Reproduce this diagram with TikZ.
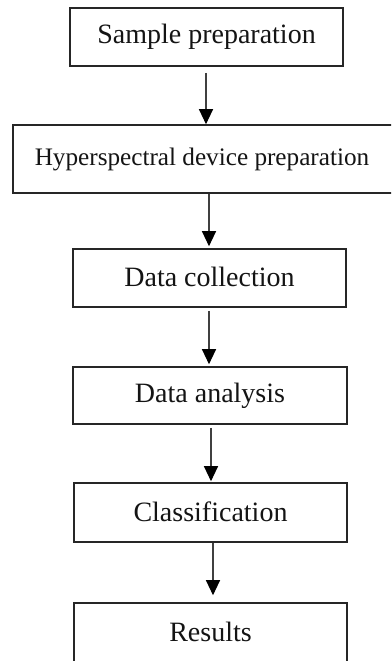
\documentclass[tikz,border=0pt]{standalone}
\usepackage{fontspec}
\setmainfont{Liberation Serif}
\usetikzlibrary{arrows.meta}

\tikzset{
  stepbox/.style={draw=black!85, line width=1.6pt, fill=white, inner sep=0pt,
    text=black!92, font=\fontsize{28}{32}\selectfont},
  flow/.style={draw=black!75, line width=1.2pt,
    -{Triangle[length=15pt,width=14pt,color=black]}},
}

\begin{document}
\begin{tikzpicture}[x=1pt,y=-1pt]
  \useasboundingbox (0,0) rectangle (391,661);
  \clip (0,0) rectangle (391,661);

  % process steps, top to bottom
  \node[stepbox, minimum width=273pt, minimum height=58pt] (b1) at (206.5,37)
    {\raisebox{1pt}{Sample preparation}};
  \node[stepbox, minimum width=389pt, minimum height=68pt,
        font=\fontsize{25.2}{30}\selectfont] (b2) at (207.5,159)
    {\hspace*{-11pt}\raisebox{5pt}{Hyperspectral device preparation}};
  \node[stepbox, minimum width=273pt, minimum height=58pt] (b3) at (209.5,278)
    {\raisebox{3pt}{Data collection}};
  \node[stepbox, minimum width=274pt, minimum height=57pt] (b4) at (210,395.5)
    {\raisebox{3pt}{Data analysis}};
  \node[stepbox, minimum width=273pt, minimum height=59pt] (b5) at (210.5,512.5)
    {\raisebox{2pt}{Classification}};
  \node[stepbox, minimum width=273pt, minimum height=62pt] (b6) at (210.5,634)
    {\raisebox{4pt}{Results}};

  % connectors
  \draw[flow] ([xshift=-0.5pt,yshift=-6pt]b1.south) -- ([xshift=-1.5pt]b2.north);
  \draw[flow] ([xshift=1.5pt]b2.south) -- ([xshift=-0.5pt,yshift=2pt]b3.north);
  \draw[flow] ([xshift=-0.5pt,yshift=-3pt]b3.south) -- ([xshift=-1pt,yshift=2pt]b4.north);
  \draw[flow] ([xshift=1pt,yshift=-3pt]b4.south) -- ([xshift=0.5pt,yshift=1pt]b5.north);
  \draw[flow] ([xshift=2.5pt]b5.south) -- ([xshift=2.5pt,yshift=7pt]b6.north);
\end{tikzpicture}
\end{document}
